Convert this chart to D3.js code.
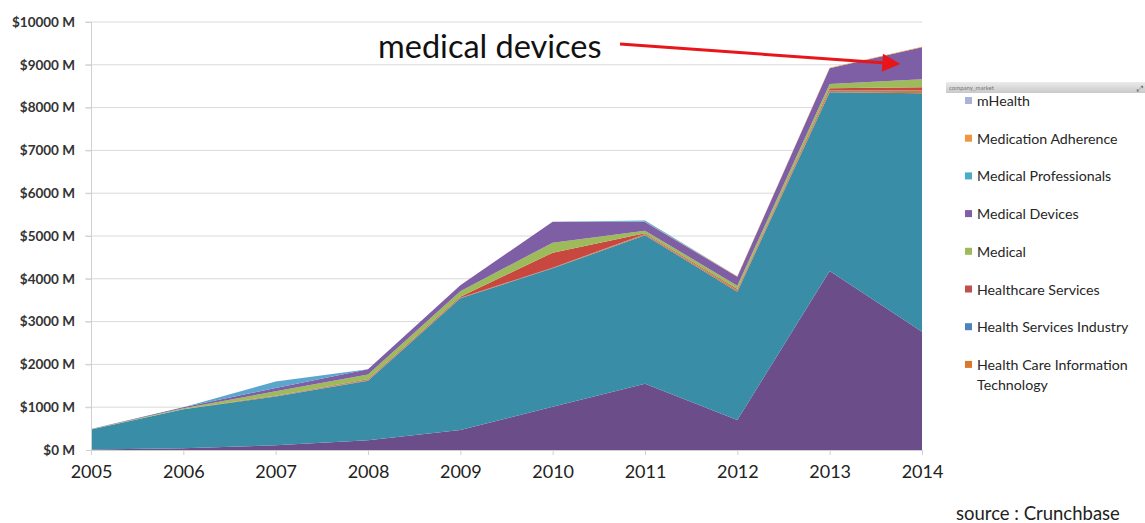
<!DOCTYPE html>
<html>
<head>
<meta charset="utf-8">
<script src="https://cdn.jsdelivr.net/npm/d3@7"></script>
<style>
  html, body { margin: 0; padding: 0; background: #fff; }
  svg { display: block; }
</style>
</head>
<body>
<svg id="chart" width="1145" height="523"></svg>
<script>
// ---------- DATA (values in $M) ----------
const years = [2005, 2006, 2007, 2008, 2009, 2010, 2011, 2012, 2013, 2014];
const yTicks = [0, 1000, 2000, 3000, 4000, 5000, 6000, 7000, 8000, 9000, 10000];

// layers from bottom to top
const otherDarkPurple        = [10, 40, 110, 230, 470, 1010, 1545, 700, 4180, 2765];
const medicalProfessionals   = [470, 910, 1140, 1390, 3075, 3235, 3475, 3000, 4180, 5570];
const healthCareIT           = [0, 0, 5, 10, 10, 10, 20, 30, 40, 60];
const healthServicesIndustry = [0, 0, 5, 5, 5, 5, 5, 10, 10, 10];
const healthcareServices     = [0, 0, 10, 20, 20, 350, 20, 20, 40, 70];
const medical                = [5, 25, 100, 110, 130, 235, 60, 80, 100, 185];
const medicalDevices         = [5, 25, 80, 120, 140, 490, 200, 210, 370, 750];
const medicationAdherence    = [0, 0, 0, 0, 0, 0, 10, 10, 10, 10];
const mHealth                = [0, 0, 150, 0, 0, 0, 30, 0, 0, 0];

const layerKeys   = ["other", "medProf", "hcit", "hsi", "hcs", "medical", "medDev", "medAdh", "mhealth"];
const layerValues = [otherDarkPurple, medicalProfessionals, healthCareIT, healthServicesIndustry,
                     healthcareServices, medical, medicalDevices, medicationAdherence, mHealth];
const layerColors = ["#6a4d89", "#3a8da6", "#d9772f", "#4f7fbd", "#c8473f", "#9dbb5a", "#7e5ea4", "#f0963f", "#5aa6cc"];

const legendNames  = ["mHealth", "Medication Adherence", "Medical Professionals", "Medical Devices",
                      "Medical", "Healthcare Services", "Health Services Industry", "Health Care Information|Technology"];
const legendColors = ["#aab2d6", "#f0963f", "#4aacc6", "#7e5ea4", "#9dbb5a", "#c0504d", "#4f81bd", "#d9772f"];

// ---------- BUILD ----------
const table = years.map((yr, i) => {
  const row = { year: yr };
  layerKeys.forEach((k, j) => row[k] = layerValues[j][i]);
  return row;
});

const svg = d3.select("#chart");
const x = d3.scaleLinear().domain([2005, 2014]).range([91, 922]);
const y = d3.scaleLinear().domain([0, 10000]).range([450, 22]);
const font = "Lato, 'Open Sans', sans-serif";

// gridlines
svg.append("g").selectAll("line").data(yTicks.filter(d => d > 0)).join("line")
  .attr("x1", 85).attr("x2", 922)
  .attr("y1", d => y(d)).attr("y2", d => y(d))
  .attr("stroke", "#d9d9d9").attr("stroke-width", 1);

// stacked areas
const stack = d3.stack().keys(layerKeys);
const series = stack(table);
const area = d3.area()
  .x(d => x(d.data.year))
  .y0(d => y(d[0]))
  .y1(d => y(d[1]))
  .curve(d3.curveLinear);

svg.append("g").selectAll("path").data(series).join("path")
  .attr("d", area)
  .attr("fill", (d, i) => layerColors[i]);

// y axis
const yAxis = d3.axisLeft(y).tickValues(yTicks).tickSize(5).tickFormat(d => "$" + d + " M");
const gy = svg.append("g").attr("transform", "translate(91,0)").call(yAxis);
gy.select(".domain").attr("stroke", "#d0d0d0");
gy.selectAll(".tick line").attr("stroke", "#d0d0d0");
gy.selectAll(".tick text").attr("x", -16).attr("font-family", font).attr("font-weight", "bold")
  .attr("font-size", 13.5).attr("fill", "#333");

// x axis
const xAxis = d3.axisBottom(x).tickValues(years).tickSize(5).tickFormat(d3.format("d"));
const gx = svg.append("g").attr("transform", "translate(0,450)").call(xAxis);
gx.select(".domain").attr("stroke", "#d0d0d0");
gx.selectAll(".tick line").attr("stroke", "#d0d0d0");
gx.selectAll(".tick text").attr("y", 15).attr("font-family", font)
  .attr("font-size", 18).attr("fill", "#222");

// annotation
svg.append("text").attr("x", 378).attr("y", 58).text("medical devices")
  .attr("font-family", font).attr("font-size", 32.5).attr("fill", "#111");
svg.append("defs").append("marker").attr("id", "ah")
  .attr("viewBox", "0 0 10 10").attr("refX", 2).attr("refY", 5)
  .attr("markerWidth", 7).attr("markerHeight", 6).attr("orient", "auto")
  .append("path").attr("d", "M0,0 L10,5 L0,10 Z").attr("fill", "#e8161a");
svg.append("line").attr("x1", 620).attr("y1", 44).attr("x2", 886).attr("y2", 63)
  .attr("stroke", "#e8161a").attr("stroke-width", 3).attr("marker-end", "url(#ah)");

// legend header bar
const grad = svg.append("defs").append("linearGradient").attr("id", "hdr")
  .attr("x1", 0).attr("y1", 0).attr("x2", 0).attr("y2", 1);
grad.append("stop").attr("offset", 0).attr("stop-color", "#ebebeb");
grad.append("stop").attr("offset", 1).attr("stop-color", "#c9c9c9");
svg.append("rect").attr("x", 946).attr("y", 82).attr("width", 199).attr("height", 11).attr("fill", "url(#hdr)");
svg.append("text").attr("x", 949).attr("y", 90).text("company_market")
  .attr("font-family", font).attr("font-size", 6).attr("fill", "#777");
svg.append("text").attr("x", 1137).attr("y", 91).text("⤢")
  .attr("font-family", "DejaVu Sans").attr("font-size", 8).attr("fill", "#666");

// legend items
const lg = svg.append("g");
legendNames.forEach((name, i) => {
  const cy = 101 + i * 37.7;
  lg.append("rect").attr("x", 965).attr("y", cy - 4).attr("width", 7).attr("height", 7).attr("fill", legendColors[i]);
  const parts = name.split("|");
  parts.forEach((p, k) => {
    lg.append("text").attr("x", 977).attr("y", cy + 5 + k * 20).text(p)
      .attr("font-family", font).attr("font-size", 14.2).attr("fill", "#262626");
  });
});

// source
svg.append("text").attr("x", 956).attr("y", 520).text("source : Crunchbase")
  .attr("font-family", font).attr("font-size", 18.5).attr("fill", "#222");
</script>
</body>
</html>
